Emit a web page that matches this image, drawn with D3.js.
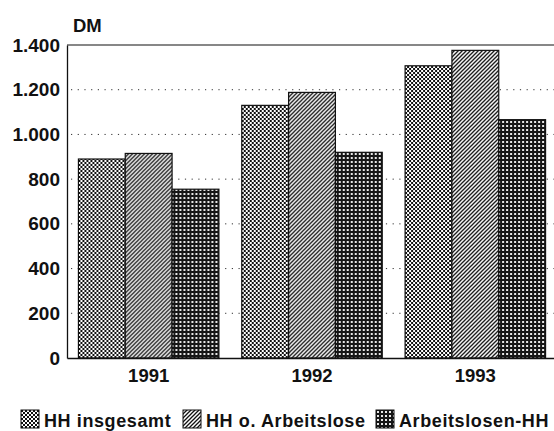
<!DOCTYPE html>
<html>
<head>
<meta charset="utf-8">
<script src="https://cdn.jsdelivr.net/npm/d3@7"></script>
<style>
  body { margin: 0; background: #fff; }
  text { font-family: "Liberation Sans", Arial, sans-serif; font-weight: bold; fill: #111; }
</style>
</head>
<body>
<div id="chart"></div>
<script>
// chart data
const YEARS = ["1991", "1992", "1993"];
const SERIES = ["HH insgesamt", "HH o. Arbeitslose", "Arbeitslosen-HH"];
const HH_INSGESAMT = [890, 1130, 1307];
const HH_OHNE_ARBEITSLOSE = [915, 1188, 1376];
const ARBEITSLOSEN_HH = [755, 920, 1066];
const Y_TICKS = [0, 200, 400, 600, 800, 1000, 1200, 1400];
const Y_LABELS = ["0", "200", "400", "600", "800", "1.000", "1.200", "1.400"];

const FRAME_WIDTH = 554;
const FRAME_HEIGHT = 431;
const MARGINS = {left: 67, right: -3, top: 45, bottom: 73};
const VIS_WIDTH = FRAME_WIDTH - MARGINS.left - MARGINS.right;
const VIS_HEIGHT = FRAME_HEIGHT - MARGINS.top - MARGINS.bottom;

const svg = d3.select("#chart").append("svg")
    .attr("width", FRAME_WIDTH)
    .attr("height", FRAME_HEIGHT);

// fill patterns, one per series
const defs = svg.append("defs");
const p1 = defs.append("pattern").attr("id", "pat0")
    .attr("patternUnits", "userSpaceOnUse").attr("width", 4).attr("height", 4);
p1.append("rect").attr("width", 4).attr("height", 4).attr("fill", "#fff");
p1.append("rect").attr("width", 2).attr("height", 2).attr("fill", "#111");
p1.append("rect").attr("x", 2).attr("y", 2).attr("width", 2).attr("height", 2).attr("fill", "#111");

const p2 = defs.append("pattern").attr("id", "pat1")
    .attr("patternUnits", "userSpaceOnUse").attr("width", 4).attr("height", 4);
p2.append("rect").attr("width", 4).attr("height", 4).attr("fill", "#fff");
p2.append("path").attr("d", "M-1,1 l2,-2 M0,4 l4,-4 M3,5 l2,-2")
    .attr("stroke", "#111").attr("stroke-width", 1.3);

// grid pattern: dark lines with small light holes
const p3 = defs.append("pattern").attr("id", "pat2")
    .attr("patternUnits", "userSpaceOnUse").attr("width", 4).attr("height", 4);
p3.append("rect").attr("width", 4).attr("height", 4).attr("fill", "#161616");
p3.append("rect").attr("x", 1).attr("y", 1).attr("width", 2).attr("height", 2).attr("fill", "#e8e8e8");

const data = YEARS.map((y, i) => ({
    year: y,
    values: [HH_INSGESAMT[i], HH_OHNE_ARBEITSLOSE[i], ARBEITSLOSEN_HH[i]]
}));

const X_SCALE = d3.scaleBand()
    .domain(YEARS)
    .range([MARGINS.left, MARGINS.left + VIS_WIDTH])
    .paddingInner(0.14)
    .paddingOuter(0.07);

const X_INNER = d3.scaleBand()
    .domain([0, 1, 2])
    .range([0, X_SCALE.bandwidth()]);

const Y_SCALE = d3.scaleLinear()
    .domain([0, 1400])
    .range([MARGINS.top + VIS_HEIGHT, MARGINS.top]);

// dotted grid lines
svg.append("g")
    .selectAll("line")
    .data(Y_TICKS.filter(t => t > 0 && t < 1400))
    .enter().append("line")
      .attr("x1", MARGINS.left + 4)
      .attr("x2", FRAME_WIDTH)
      .attr("y1", d => Y_SCALE(d))
      .attr("y2", d => Y_SCALE(d))
      .attr("stroke", "#333")
      .attr("stroke-width", 1)
      .attr("stroke-dasharray", "1.2,5.5");

// top frame line
svg.append("line")
    .attr("x1", MARGINS.left).attr("x2", FRAME_WIDTH)
    .attr("y1", Y_SCALE(1400)).attr("y2", Y_SCALE(1400))
    .attr("stroke", "#111").attr("stroke-width", 1.2);

// bars
const groups = svg.append("g").selectAll("g")
    .data(data)
    .enter().append("g")
      .attr("transform", d => "translate(" + X_SCALE(d.year) + ",0)");

groups.selectAll("rect")
    .data(d => d.values)
    .enter().append("rect")
      .attr("x", (d, i) => X_INNER(i))
      .attr("width", X_INNER.bandwidth())
      .attr("y", d => Y_SCALE(d))
      .attr("height", d => Y_SCALE(0) - Y_SCALE(d))
      .attr("fill", (d, i) => "url(#pat" + i + ")")
      .attr("stroke", "#111")
      .attr("stroke-width", 1.2);

// y axis
const yAxis = svg.append("g")
    .attr("transform", "translate(" + MARGINS.left + ",0)")
    .call(d3.axisLeft(Y_SCALE).tickValues(Y_TICKS)
        .tickFormat((d, i) => Y_LABELS[i]).tickSize(0).tickPadding(7));
yAxis.select(".domain").attr("stroke", "#111").attr("stroke-width", 1.3);
yAxis.selectAll("text")
    .attr("font-size", "19px")
    .attr("font-family", "Liberation Sans, Arial, sans-serif")
    .attr("font-weight", "bold")
    .attr("fill", "#111");

// x axis
const xAxis = svg.append("g")
    .attr("transform", "translate(0," + Y_SCALE(0) + ")")
    .call(d3.axisBottom(X_SCALE).tickSize(0).tickPadding(11));
xAxis.select(".domain").attr("stroke", "#111").attr("stroke-width", 1.3);
xAxis.selectAll("text")
    .attr("font-size", "18.5px")
    .attr("font-family", "Liberation Sans, Arial, sans-serif")
    .attr("font-weight", "bold")
    .attr("fill", "#111");

// unit label
svg.append("text")
    .attr("x", 73).attr("y", 32)
    .attr("font-size", "18.5px")
    .text("DM");

// legend
const LEGEND_X = [21, 183, 376];
const legend = svg.append("g").selectAll("g")
    .data(SERIES)
    .enter().append("g")
      .attr("transform", (d, i) => "translate(" + LEGEND_X[i] + ",410)");
legend.append("rect")
    .attr("width", 18).attr("height", 18)
    .attr("fill", (d, i) => "url(#pat" + i + ")")
    .attr("stroke", "#111").attr("stroke-width", 1);
legend.append("text")
    .attr("x", 23).attr("y", 17)
    .attr("font-size", "18px")
    .attr("letter-spacing", "0.6px")
    .text(d => d);
</script>
</body>
</html>
